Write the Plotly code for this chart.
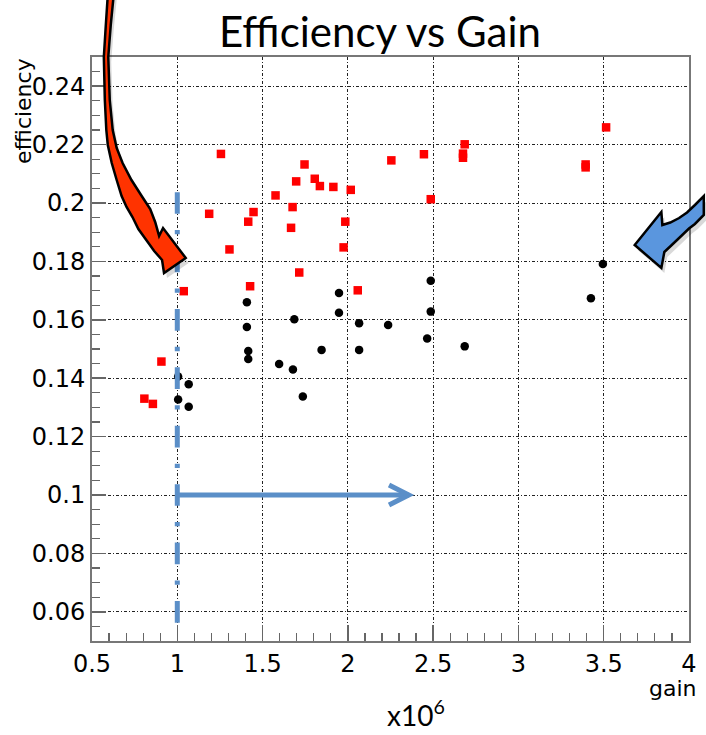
import plotly.graph_objects as go

# ---------------- data ----------------
red_x = [0.807, 0.857, 0.907, 1.038, 1.187, 1.256, 1.306, 1.416, 1.447, 1.427,
         1.576, 1.676, 1.667, 1.697, 1.746, 1.715, 1.806, 1.836, 1.915, 1.975,
         1.985, 2.017, 2.058, 2.255, 2.446, 2.486, 2.685, 2.675, 2.675, 3.394,
         3.394, 3.514]
red_y = [0.1330, 0.1312, 0.1457, 0.1698, 0.1963, 0.2168, 0.1841, 0.1936, 0.1969, 0.1715,
         0.2026, 0.1986, 0.1915, 0.2074, 0.2132, 0.1762, 0.2083, 0.2058, 0.2055, 0.1848,
         0.1936, 0.2045, 0.1701, 0.2146, 0.2167, 0.2013, 0.2201, 0.2169, 0.2155, 0.2132,
         0.2122, 0.2259]

black_x = [1.005, 1.067, 1.005, 1.067, 1.408, 1.408, 1.416, 1.416, 1.597, 1.678,
           1.686, 1.736, 1.846, 1.948, 1.948, 2.066, 2.066, 2.236, 2.486, 2.486,
           2.465, 2.685, 3.495, 3.425]
black_y = [0.1406, 0.1379, 0.1327, 0.1302, 0.1660, 0.1575, 0.1493, 0.1466, 0.1449, 0.1430,
           0.1602, 0.1337, 0.1497, 0.1692, 0.1624, 0.1588, 0.1497, 0.1582, 0.1734, 0.1628,
           0.1536, 0.1509, 0.1791, 0.1674]

x_tickvals = [0.5, 1.0, 1.5, 2.0, 2.5, 3.0, 3.5, 4.0]
x_ticktext = ["0.5", "1", "1.5", "2", "2.5", "3", "3.5", "4"]
y_tickvals = [0.06, 0.08, 0.10, 0.12, 0.14, 0.16, 0.18, 0.20, 0.22, 0.24]
y_ticktext = ["0.06", "0.08", "0.1", "0.12", "0.14", "0.16", "0.18", "0.2", "0.22", "0.24"]

threshold_gain = 1.0
arrow_level = 0.10
arrow_end_gain = 2.357

# ---------------- geometry ----------------
FW, FH = 706, 735
L, R, T, B = 92, 9, 57, 94
PW, PH = FW - L - R, FH - T - B
XR = [0.5, 4.0]
YR = [0.05, 0.25]


def to_paper(x, y):
    return (x - L) / PW, (FH - B - y) / PH


def dx_px(v):
    return L + (v - XR[0]) / (XR[1] - XR[0]) * PW


def dy_px(v):
    return FH - B - (v - YR[0]) / (YR[1] - YR[0]) * PH


def path_from_px(pts, dx=0, dy=0, close=True):
    s = ""
    for i, (x, y) in enumerate(pts):
        px_, py_ = to_paper(x + dx, y + dy)
        s += ("M" if i == 0 else "L") + f"{px_:.5f},{py_:.5f} "
    if close:
        s += "Z"
    return s


red_arrow = [(114, -5), (111, 25), (108.5, 57), (110, 100), (113, 130), (117, 148),
             (123, 163), (132, 180), (143, 197), (151, 209), (156, 222), (160, 236),
             (164, 228), (187, 258), (165, 273),
             (163, 260), (155, 251), (147, 240), (139, 229), (133, 217), (127, 207),
             (122, 196), (117, 180), (112, 163), (108, 145), (106.5, 130), (105, 100),
             (104, 57), (106, 25), (108, -5)]

blue_arrow = [(642, 245), (669, 212), (670, 225), (678, 222.5), (687, 218),
              (695, 212.5), (703, 205), (712, 196), (712, 215), (703, 224),
              (697, 228.5), (687, 238), (679, 245.5), (672, 252), (669, 268)]

fig = go.Figure()

fig.add_trace(go.Scatter(x=red_x, y=red_y, mode="markers",
                         marker=dict(symbol="square", size=8.5, color="#ff0000"),
                         showlegend=False, hoverinfo="skip"))
fig.add_trace(go.Scatter(x=black_x, y=black_y, mode="markers",
                         marker=dict(symbol="circle", size=8.5, color="#000000"),
                         showlegend=False, hoverinfo="skip"))

ppu = PH / (YR[1] - YR[0])  # px per unit
period = 0.02 * ppu
long_d = 21.7
dot_d = 4.3
gap = (period - long_d - dot_d) / 2
half_long = long_d / 2 / ppu

shapes = []
# blue dash-dot vertical line
shapes.append(dict(type="line", xref="x", yref="y", x0=threshold_gain, x1=threshold_gain,
                   y0=0.20 + half_long, y1=0.06 - half_long,
                   line=dict(color="#5b8fc8", width=5,
                             dash=f"{long_d}px,{gap}px,{dot_d}px,{gap}px"),
                   layer="above"))
# blue horizontal arrow
shapes.append(dict(type="line", xref="x", yref="y", x0=threshold_gain, x1=arrow_end_gain,
                   y0=arrow_level, y1=arrow_level,
                   line=dict(color="#5b8fc8", width=5), layer="above"))
tx, ty = dx_px(arrow_end_gain), dy_px(arrow_level)
shapes.append(dict(type="path", xref="paper", yref="paper",
                   path=path_from_px([(tx - 20, ty - 10), (tx, ty), (tx - 20, ty + 10)], close=False),
                   line=dict(color="#5b8fc8", width=5), layer="above"))
# shadows
shapes.append(dict(type="path", xref="paper", yref="paper",
                   path=path_from_px(red_arrow, 3, 5), fillcolor="rgba(0,0,0,0.15)",
                   line=dict(width=0), layer="above"))
shapes.append(dict(type="path", xref="paper", yref="paper",
                   path=path_from_px(blue_arrow, 3, 5), fillcolor="rgba(0,0,0,0.15)",
                   line=dict(width=0), layer="above"))
# red arrow
shapes.append(dict(type="path", xref="paper", yref="paper",
                   path=path_from_px(red_arrow), fillcolor="#ff3300",
                   line=dict(color="black", width=2.5), layer="above"))
# blue arrow
shapes.append(dict(type="path", xref="paper", yref="paper",
                   path=path_from_px(blue_arrow), fillcolor="#5a96de",
                   line=dict(color="black", width=2.5), layer="above"))

root_font = dict(family="DejaVu Sans", size=22, color="black")
tick_font = dict(family="DejaVu Sans", size=24, color="black")
grid_dash = "3px,2px,1px,2px"

fig.update_layout(
    width=FW, height=FH, autosize=False,
    margin=dict(l=L, r=R, t=T, b=B, pad=0),
    paper_bgcolor="white", plot_bgcolor="white",
    hovermode=False,
    shapes=shapes,
    xaxis=dict(range=XR, tickmode="array", tickvals=x_tickvals, ticktext=x_ticktext,
               ticks="inside", ticklen=16, tickwidth=1.5, tickcolor="#666",
               minor=dict(ticks="inside", ticklen=8, tickwidth=1.2, tickcolor="#666",
                          tickmode="linear", tick0=0.5, dtick=0.1, showgrid=False),
               showgrid=True, gridcolor="#222", gridwidth=1, griddash=grid_dash,
               showline=True, linecolor="#777", linewidth=2, mirror=True,
               zeroline=False, tickfont=tick_font),
    yaxis=dict(range=YR, tickmode="array", tickvals=y_tickvals, ticktext=y_ticktext,
               ticks="inside", ticklen=14, tickwidth=1.5, tickcolor="#666",
               minor=dict(ticks="inside", ticklen=8, tickwidth=1.2, tickcolor="#666",
                          tickmode="linear", tick0=0.05, dtick=0.005, showgrid=False),
               showgrid=True, gridcolor="#222", gridwidth=1, griddash=grid_dash,
               showline=True, linecolor="#777", linewidth=2, mirror=True,
               zeroline=False, tickfont=tick_font),
    annotations=[
        dict(text="Efficiency vs Gain", xref="paper", yref="paper",
             x=to_paper(384, 0)[0], y=to_paper(0, 31)[1], xanchor="center", yanchor="middle",
             showarrow=False, font=dict(family="Lato", size=42, color="black")),
        dict(text="efficiency", xref="paper", yref="paper", textangle=-90,
             x=to_paper(22, 0)[0], y=to_paper(0, 111)[1], xanchor="center", yanchor="middle",
             showarrow=False, font=root_font),
        dict(text="gain", xref="paper", yref="paper",
             x=1.0, y=to_paper(0, 689)[1], xanchor="right", yanchor="middle", xshift=10,
             showarrow=False, font=root_font),
        dict(text="x10<sup>6</sup>", xref="paper", yref="paper",
             x=to_paper(420, 0)[0], y=to_paper(0, 734)[1], xanchor="center", yanchor="bottom",
             showarrow=False, font=dict(family="Lato", size=28, color="black")),
    ],
)

fig.write_html("out.html", config={"displayModeBar": False, "staticPlot": True},
               post_script="document.body.style.margin='0';document.body.style.padding='0';")
